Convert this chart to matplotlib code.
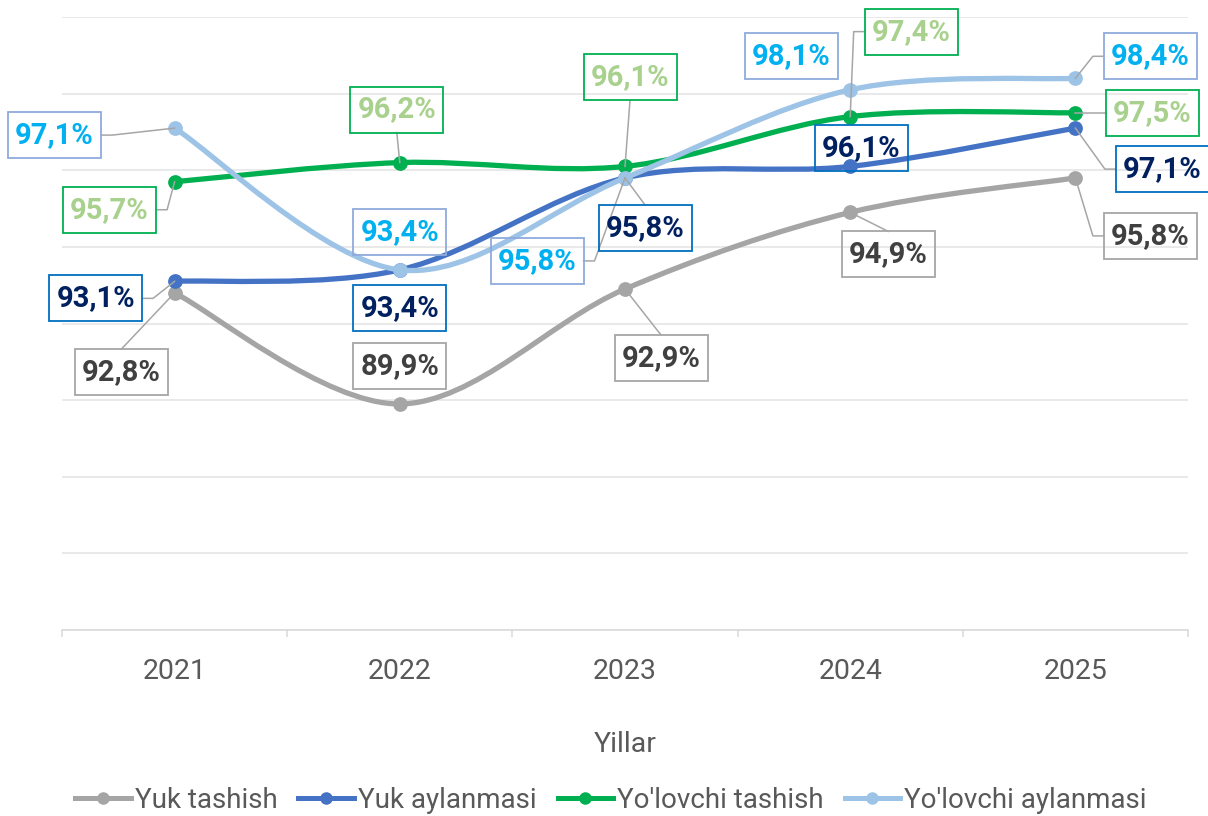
import matplotlib
matplotlib.use("Agg")
import matplotlib.pyplot as plt
import numpy as np
from matplotlib.path import Path
from matplotlib.patches import PathPatch, Rectangle
from matplotlib.lines import Line2D
from matplotlib.transforms import IdentityTransform
from matplotlib import font_manager

# ---------------- data ----------------
years = ["2021", "2022", "2023", "2024", "2025"]
yuk_tashish = [92.8, 89.9, 92.9, 94.9, 95.8]
yuk_aylanmasi = [93.1, 93.4, 95.8, 96.1, 97.1]
yolovchi_tashish = [95.7, 96.2, 96.1, 97.4, 97.5]
yolovchi_aylanmasi = [97.1, 93.4, 95.8, 98.1, 98.4]
series_names = ["Yuk tashish", "Yuk aylanmasi", "Yo'lovchi tashish", "Yo'lovchi aylanmasi"]
x_title = "Yillar"

series_values = [yuk_tashish, yuk_aylanmasi, yolovchi_tashish, yolovchi_aylanmasi]

# ---------------- styles ----------------
line_colors = ["#A5A5A5", "#4472C4", "#00B050", "#9DC3E6"]
label_text_colors = ["#404040", "#002060", "#A9D18E", "#00B0F0"]
label_edge_colors = ["#A6A6A6", "#0070C0", "#00B050", "#8FAADC"]
# label-box centre offsets from the point, in pixels (dx, dy up)
label_offsets = [
    [(-53, -79), (0, 38), (36, -69), (38, -42), (75, -58)],
    [(-79, -17), (0, -38), (20, -50), (11, 18), (87, -41)],
    [(-65, -28), (-3, 53), (5, 89), (61, 85), (77, 0)],
    [(-120, -7), (0, 38), (-88, -83), (-59, 34), (75, 22)],
]
BOX_W, BOX_H = 93, 46
LEADER_COLOR = "#A6A6A6"
TEXT_GRAY = "#595959"

available = {f.name for f in font_manager.fontManager.ttflist}
if "Liberation Sans Narrow" in available:
    axis_font, axis_size, legend_size = "Liberation Sans Narrow", 23, 23
else:
    axis_font, axis_size, legend_size = "Roboto", 20.5, 20
label_font, label_size = "Roboto", 21

W, H = 1208, 816
fig = plt.figure(figsize=(W / 100, H / 100), dpi=100)
ax = fig.add_axes([62 / W, (H - 630) / H, 1126 / W, 613 / H])

x = np.arange(len(years))
ax.set_xlim(-0.5, len(years) - 0.5)
ax.set_ylim(84, 100)


def smooth_path(xs, ys):
    pts = np.column_stack([xs, ys]).astype(float)
    n = len(pts)
    verts = [pts[0]]
    codes = [Path.MOVETO]
    for i in range(n - 1):
        p0 = pts[i - 1] if i > 0 else pts[i]
        p1 = pts[i]
        p2 = pts[i + 1]
        p3 = pts[i + 2] if i + 2 < n else pts[i + 1]
        c1 = p1 + (p2 - p0) / 6.0
        c2 = p2 - (p3 - p1) / 6.0
        verts += [c1, c2, p2]
        codes += [Path.CURVE4] * 3
    return Path(verts, codes)


for k, vals in enumerate(series_values):
    patch = PathPatch(smooth_path(x, vals), fill=False, edgecolor=line_colors[k],
                      lw=3.8, capstyle="round", joinstyle="round", zorder=3 + k * 0.1)
    ax.add_patch(patch)
    ax.plot(x, vals, linestyle="none", marker="o", markersize=9.6,
            color=line_colors[k], zorder=3.05 + k * 0.1)

# grid / axes
ax.set_yticks(np.arange(84, 101, 2))
ax.yaxis.grid(True, color="#E3E3E3", lw=1.1)
ax.set_axisbelow(True)
ax.tick_params(axis="y", length=0, labelleft=False)
for s in ["left", "right", "top"]:
    ax.spines[s].set_visible(False)
ax.spines["bottom"].set_color("#D9D9D9")
ax.spines["bottom"].set_linewidth(1.1)
ax.set_xticks(x)
ax.set_xticklabels(years, fontfamily=axis_font, fontsize=axis_size, color=TEXT_GRAY)
ax.set_xticks(np.arange(-0.5, len(years), 1), minor=True)
ax.tick_params(axis="x", which="major", length=0, pad=20)
ax.tick_params(axis="x", which="minor", length=5, width=1.1, color="#D9D9D9", direction="out")

fig.text(625 / W, 1 - 745 / H, x_title, ha="center", va="center",
         fontfamily=axis_font, fontsize=axis_size, color=TEXT_GRAY)

# data labels with leader lines (in pixel space)
ident = IdentityTransform()
for k, vals in enumerate(series_values):
    for i, v in enumerate(vals):
        px, py = ax.transData.transform((x[i], v))
        dx, dy = label_offsets[k][i]
        cx, cy = px + dx, py + dy
        x0, x1 = cx - BOX_W / 2, cx + BOX_W / 2
        y0, y1 = cy - BOX_H / 2, cy + BOX_H / 2
        need_leader = abs(dx) > BOX_W / 2 + 17 or abs(dy) > BOX_H / 2 + 17
        if need_leader:
            if abs(dx) > BOX_W / 2 + 10:
                if dx < 0:
                    sx = x1
                    ex = min(x1 + 11, px)
                else:
                    sx = x0
                    ex = max(x0 - 11, px)
                lx = [sx, ex, px]
                ly = [cy, cy, py]
            else:
                sy = y1 if dy < 0 else y0
                lx = [cx, px]
                ly = [sy, py]
            fig.add_artist(Line2D(lx, ly, transform=ident, color=LEADER_COLOR,
                                  lw=1.1, zorder=5))
        fig.add_artist(Rectangle((x0, y0), BOX_W, BOX_H, transform=ident, fill=False,
                                 edgecolor=label_edge_colors[k], lw=1.3, zorder=6))
        txt = f"{v:.1f}%".replace(".", ",")
        fig.text(cx, cy, txt, transform=ident, ha="center", va="center",
                 fontfamily=label_font, fontsize=label_size, fontweight="bold",
                 color=label_text_colors[k], zorder=7)

handles = [Line2D([0], [0], color=c, lw=3.6, marker="o", markersize=8)
           for c in line_colors]
fig.legend(handles, series_names, loc="center", bbox_to_anchor=(611 / W, 1 - 800 / H),
           ncol=4, frameon=False, handlelength=2.0, handletextpad=0.15,
           columnspacing=0.75, borderaxespad=0,
           prop={"family": axis_font, "size": legend_size}, labelcolor=TEXT_GRAY)

fig.savefig("out.png", dpi=100)
